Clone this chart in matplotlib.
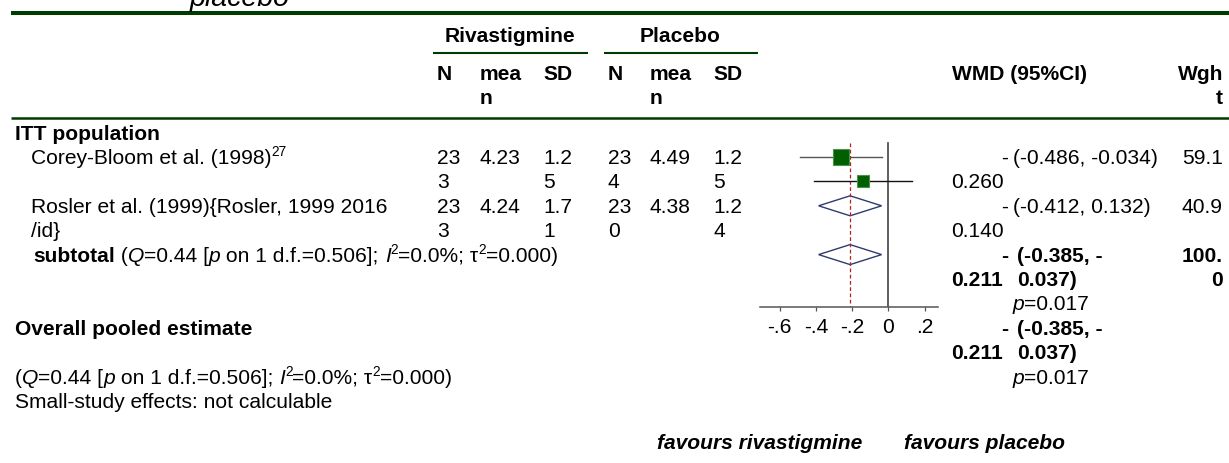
import math
import matplotlib
matplotlib.use('Agg')
import matplotlib.pyplot as plt
from matplotlib.patches import Polygon

plt.rcParams['font.family'] = ['Liberation Sans', 'DejaVu Sans']

# ---------------- data ----------------
title_tail = "placebo"
group_labels = ["Rivastigmine", "Placebo"]
col_labels = ["N", "mean", "SD"]
section_label = "ITT population"
study_names = ["Corey-Bloom et al. (1998)", "Rosler et al. (1999){Rosler, 1999 2016\n/id}"]
study_sup = ["27", ""]
riv_n = [233, 233]
riv_mean = [4.23, 4.24]
riv_sd = [1.25, 1.71]
pla_n = [234, 230]
pla_mean = [4.49, 4.38]
pla_sd = [1.25, 1.24]
wmd = [-0.260, -0.140]
ci_lo = [-0.486, -0.412]
ci_hi = [-0.034, 0.132]
weights = [59.1, 40.9]
pooled = -0.211
pooled_lo = -0.385
pooled_hi = -0.037
pooled_p = 0.017
het_Q = 0.44
het_p = 0.506
het_df = 1
het_I2 = 0.0
het_tau2 = 0.000
xticks = [-0.6, -0.4, -0.2, 0.0, 0.2]
xticklabels = ["-.6", "-.4", "-.2", "0", ".2"]
favours = ["favours rivastigmine", "favours placebo"]
small_study = "Small-study effects: not calculable"

# ---------------- layout ----------------
W, H = 1229, 463
FS = 15.1
SUP = 9.8
GREEN = '#003b00'

fig = plt.figure(figsize=(W / 100, H / 100), dpi=100)
ax = fig.add_axes([0, 0, 1, 1])
ax.set_xlim(0, W)
ax.set_ylim(H, 0)
ax.axis('off')
fig.canvas.draw()
R = fig.canvas.get_renderer()


def row_y(i):
    return 157 + 24.4 * i


def base(yc):
    return yc + 7


def twidth(s, **kw):
    kw = dict(kw)
    kw.pop('dy', None)
    kw.setdefault('fontsize', FS)
    t = ax.text(0, 0, '|' + s + '|', **kw)
    t2 = ax.text(0, 0, '||', **kw)
    w = t.get_window_extent(R).width - t2.get_window_extent(R).width
    t.remove()
    t2.remove()
    return w


def runs(x, yc, parts):
    for s, kw in parts:
        kw = dict(kw)
        dy = kw.pop('dy', 0)
        kw.setdefault('fontsize', FS)
        ax.text(x, base(yc) + dy, s, ha='left', va='baseline', color='black', **kw)
        x += twidth(s, **kw)
    return x


def runs_width(parts):
    return sum(twidth(s, **kw) for s, kw in parts)


def txt(x, yc, s, ha='left', **kw):
    kw.setdefault('fontsize', FS)
    ax.text(x, base(yc), s, ha=ha, va='baseline', color='black', **kw)


def wrap(s, n):
    return [s[i:i + n] for i in range(0, len(s), n)]


B = dict(weight='bold')
I = dict(style='italic')
SUPK = dict(fontsize=SUP, dy=-8)

# top cropped title tail
ax.text(190, 6, title_tail, ha='left', va='baseline', style='italic', fontsize=20.5)

# rules
ax.plot([11, W], [13, 13], color=GREEN, lw=2.9, solid_capstyle='butt')
ax.plot([11, W], [117.5, 117.5], color=GREEN, lw=1.8, solid_capstyle='butt')
ax.plot([433, 588], [53, 53], color=GREEN, lw=1.5, solid_capstyle='butt')
ax.plot([604, 758], [53, 53], color=GREEN, lw=1.5, solid_capstyle='butt')

# group headers
txt(510, 35, group_labels[0], ha='center', **B)
txt(680, 35, group_labels[1], ha='center', **B)

riv_x = [437, 480, 543]
pla_x = [608, 650, 713]
hdr_wrap = [2, 3, 3]
dat_wrap = [2, 4, 3]
hdr_rows = [73, 97]
for cols in (riv_x, pla_x):
    for cx, lab, n in zip(cols, col_labels, hdr_wrap):
        for j, piece in enumerate(wrap(lab, n)):
            txt(cx, hdr_rows[j], piece, **B)

txt(952, 73, "WMD (95%CI)", **B)
for j, piece in enumerate(wrap("Wght", 3)):
    txt(1223, hdr_rows[j], piece, ha='right', **B)

# section
txt(15, row_y(-1), section_label, **B)

EST_R = 1008
EST_L = 951
CI_L = 1013
CI_LB = 1017
WT_R = 1223
P_R = 1089

for k in range(len(study_names)):
    r0 = 2 * k
    lines = study_names[k].split('\n')
    for j, ln in enumerate(lines):
        if j == 0 and study_sup[k]:
            runs(31, row_y(r0 + j), [(ln, {}), (study_sup[k], SUPK)])
        else:
            txt(31, row_y(r0 + j), ln)
    vals_r = [str(riv_n[k]), f"{riv_mean[k]:.2f}", f"{riv_sd[k]:.2f}"]
    vals_p = [str(pla_n[k]), f"{pla_mean[k]:.2f}", f"{pla_sd[k]:.2f}"]
    for cols, vals in ((riv_x, vals_r), (pla_x, vals_p)):
        for cx, v, n in zip(cols, vals, dat_wrap):
            for j, piece in enumerate(wrap(v, n)):
                txt(cx, row_y(r0 + j), piece)
    txt(EST_R, row_y(r0), "-", ha='right')
    txt(EST_L, row_y(r0 + 1), f"{abs(wmd[k]):.3f}")
    txt(CI_L, row_y(r0), f"({ci_lo[k]:.3f}, {ci_hi[k]:.3f})")
    txt(WT_R, row_y(r0), f"{weights[k]:.1f}", ha='right')


def pooled_block(r0, with_weight):
    ci = f"({pooled_lo:.3f}, {pooled_hi:.3f})"
    cut = ci.rfind('-') + 1
    txt(EST_R, row_y(r0), "-", ha='right', **B)
    txt(CI_LB, row_y(r0), ci[:cut], **B)
    txt(EST_L, row_y(r0 + 1), f"{abs(pooled):.3f}", **B)
    txt(CI_LB, row_y(r0 + 1), ci[cut:], **B)
    parts = [("p", I), (f"={pooled_p:.3f}", {})]
    runs(P_R - runs_width(parts), row_y(r0 + 2), parts)
    if with_weight:
        for j, piece in enumerate(wrap(f"{sum(weights):.1f}", 4)):
            txt(WT_R, row_y(r0 + j), piece, ha='right', **B)


def het_parts():
    return [("Q", I), (f"={het_Q:.2f} [", {}), ("p", I),
            (f" on {het_df} d.f.={het_p:.3f}]; ", {}), ("I", I), ("2", SUPK),
            (f"={het_I2:.1f}%; \u03c4", {}), ("2", SUPK), (f"={het_tau2:.3f})", {})]


# subtotal
runs(33, row_y(4), [("subtotal", B), (" (", {})] + het_parts())
pooled_block(4, True)

# overall
txt(15, row_y(7), "Overall pooled estimate", **B)
pooled_block(7, False)
runs(15, row_y(9), [("(", {})] + het_parts())
txt(15, row_y(10), small_study)

# favours
txt(657, 442, favours[0], weight='bold', style='italic')
txt(904, 442, favours[1], weight='bold', style='italic')

# ---------------- forest graphic ----------------
fx0, fx1, fy1 = 760, 938, 307
zero_px = 888.3
ppu = 181.0
axf = fig.add_axes([fx0 / W, (H - fy1) / H, (fx1 - fx0) / W, fy1 / H])
axf.set_xlim((fx0 - zero_px) / ppu, (fx1 - zero_px) / ppu)
axf.set_ylim(fy1, 0)
axf.patch.set_alpha(0)
for s in ['left', 'right', 'top']:
    axf.spines[s].set_visible(False)
axf.spines['bottom'].set_color('#555555')
axf.spines['bottom'].set_linewidth(1.1)
axf.set_yticks([])
axf.set_xticks(xticks)
axf.set_xticklabels(xticklabels, fontsize=FS)
axf.tick_params(axis='x', length=3, width=0.9, color='#555555', pad=5)

top = row_y(0) - 14
axf.plot([0, 0], [top, fy1], color='#444444', lw=1.2)
axf.plot([pooled, pooled], [top, fy1], color='#b22222', lw=0.9, ls=(0, (3, 2)))

ci_cols = ['#555555', '#111111']
for k in range(len(wmd)):
    y = row_y(k)
    axf.plot([ci_lo[k], ci_hi[k]], [y, y], color=ci_cols[k], lw=1.0)
    side_px = 2 * math.sqrt(weights[k])
    axf.plot([wmd[k]], [y], marker='s', ms=side_px * 0.72, mfc='#006000',
             mec='#4d8f4d', mew=0.8, ls='none')

for r in (2, 4):
    y = row_y(r)
    axf.add_patch(Polygon([[pooled_lo, y], [pooled, y - 10], [pooled_hi, y], [pooled, y + 10]],
                          closed=True, fill=False, edgecolor='#2e3b6e', lw=1.0))

fig.savefig('out.png', dpi=100)
